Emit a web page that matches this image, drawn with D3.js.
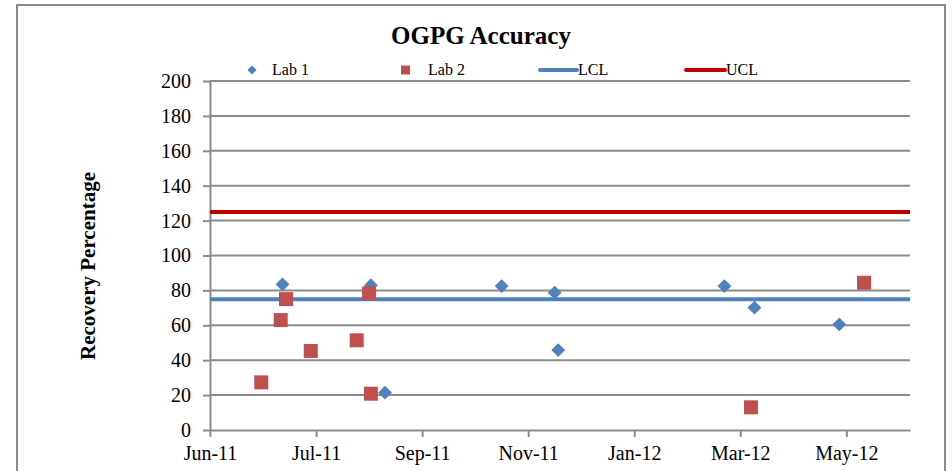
<!DOCTYPE html>
<html>
<head>
<meta charset="utf-8">
<script src="https://cdn.jsdelivr.net/npm/d3@7"></script>
<style>
  body { margin: 0; background: #fff; }
  text { font-family: "Liberation Serif", "Times New Roman", serif; fill: #000; }
</style>
</head>
<body>
<script>
// data
var lab1Dates = ["2011-07-12", "2011-08-31", "2011-09-08", "2011-11-13", "2011-12-13",
                 "2011-12-15", "2012-03-18", "2012-04-04", "2012-05-22"];
var lab1Values = [83.5, 83, 21.4, 82.5, 78.7, 45.8, 82.5, 70.1, 60.5];

var lab2Dates = ["2011-06-30", "2011-07-11", "2011-07-14", "2011-07-28", "2011-08-23",
                 "2011-08-30", "2011-08-31", "2012-04-02", "2012-06-05"];
var lab2Values = [27.3, 63, 75, 45.3, 51.4, 78.3, 20.8, 13, 84.4];

var lclValue = 75;
var uclValue = 125;

var xDomain = ["2011-06-01", "2012-07-01"];
var xTickDates = ["2011-06-01", "2011-07-31", "2011-09-29", "2011-11-28",
                  "2012-01-27", "2012-03-27", "2012-05-26"];
var yTicks = [0, 20, 40, 60, 80, 100, 120, 140, 160, 180, 200];

var parse = d3.timeParse("%Y-%m-%d");
var width = 952, height = 471;
var margin = {left: 210, right: 42, top: 81, bottom: 41};

var svg = d3.select("body").append("svg")
	.attr("width", width)
	.attr("height", height);

// chart frame
svg.append("rect")
	.attr("x", 17).attr("y", 5)
	.attr("width", 928).attr("height", 480)
	.attr("fill", "#fff")
	.attr("stroke", "#8c8c8c")
	.attr("stroke-width", 2);

var x = d3.scaleTime()
	.domain(xDomain.map(parse))
	.range([margin.left, width - margin.right]);
var y = d3.scaleLinear()
	.domain([0, 200])
	.range([height - margin.bottom, margin.top]);

// gridlines
svg.append("g").selectAll("line")
	.data(yTicks.slice(1))
	.enter().append("line")
	.attr("x1", x.range()[0]).attr("x2", x.range()[1])
	.attr("y1", function(d) { return y(d); })
	.attr("y2", function(d) { return y(d); })
	.attr("stroke", "#8c8c8c")
	.attr("stroke-width", 2);

// y axis
var yAxis = svg.append("g")
	.attr("transform", "translate(" + margin.left + ",0)")
	.call(d3.axisLeft(y).tickValues(yTicks).tickSize(7).tickSizeOuter(0).tickPadding(12));
// x axis
var xAxis = svg.append("g")
	.attr("transform", "translate(0," + y(0) + ")")
	.call(d3.axisBottom(x).tickValues(xTickDates.map(parse))
		.tickFormat(d3.timeFormat("%b-%y")).tickSize(7).tickSizeOuter(0).tickPadding(9));

[yAxis, xAxis].forEach(function(ax) {
	ax.select(".domain").attr("stroke", "#8c8c8c").attr("stroke-width", 2);
	ax.selectAll(".tick line").attr("stroke", "#8c8c8c").attr("stroke-width", 2);
	ax.selectAll(".tick text")
		.attr("font-family", "Liberation Serif")
		.attr("font-size", 20)
		.attr("fill", "#000");
});

// control limit lines
svg.append("line")
	.attr("x1", x.range()[0]).attr("x2", x.range()[1])
	.attr("y1", y(lclValue)).attr("y2", y(lclValue))
	.attr("stroke", "#4f81bd").attr("stroke-width", 4);
svg.append("line")
	.attr("x1", x.range()[0]).attr("x2", x.range()[1])
	.attr("y1", y(uclValue)).attr("y2", y(uclValue))
	.attr("stroke", "#c00000").attr("stroke-width", 4);

// Lab 1 diamonds
var diamond = d3.symbol().type(d3.symbolSquare).size(95);
svg.append("g").selectAll("path")
	.data(lab1Dates.map(function(d, i) { return [parse(d), lab1Values[i]]; }))
	.enter().append("path")
	.attr("d", diamond)
	.attr("transform", function(d) {
		return "translate(" + x(d[0]) + "," + y(d[1]) + ") rotate(45)";
	})
	.attr("fill", "#4f81bd");

// Lab 2 squares
var square = d3.symbol().type(d3.symbolSquare).size(196);
svg.append("g").selectAll("path")
	.data(lab2Dates.map(function(d, i) { return [parse(d), lab2Values[i]]; }))
	.enter().append("path")
	.attr("d", square)
	.attr("transform", function(d) {
		return "translate(" + x(d[0]) + "," + y(d[1]) + ")";
	})
	.attr("fill", "#c0504d");

// title
svg.append("text")
	.attr("x", 481).attr("y", 44)
	.attr("text-anchor", "middle")
	.attr("font-size", 25)
	.attr("font-weight", "bold")
	.text("OGPG Accuracy");

// y axis title
svg.append("text")
	.attr("transform", "translate(95,266) rotate(-90)")
	.attr("text-anchor", "middle")
	.attr("font-size", 21)
	.attr("font-weight", "bold")
	.text("Recovery Percentage");

// legend
var legendY = 70;
var leg = svg.append("g").attr("font-size", 16);
leg.append("path")
	.attr("d", d3.symbol().type(d3.symbolSquare).size(40))
	.attr("transform", "translate(252," + legendY + ") rotate(45)")
	.attr("fill", "#4f81bd");
leg.append("text").attr("x", 272).attr("y", legendY + 5).text("Lab 1");
leg.append("rect")
	.attr("x", 401).attr("y", legendY - 4.5).attr("width", 9).attr("height", 9)
	.attr("fill", "#c0504d");
leg.append("text").attr("x", 428).attr("y", legendY + 5).text("Lab 2");
leg.append("line")
	.attr("x1", 540).attr("x2", 577).attr("y1", legendY).attr("y2", legendY)
	.attr("stroke", "#4f81bd").attr("stroke-width", 4).attr("stroke-linecap", "round");
leg.append("text").attr("x", 578).attr("y", legendY + 5).text("LCL");
leg.append("line")
	.attr("x1", 686).attr("x2", 725).attr("y1", legendY).attr("y2", legendY)
	.attr("stroke", "#c00000").attr("stroke-width", 4).attr("stroke-linecap", "round");
leg.append("text").attr("x", 726).attr("y", legendY + 5).text("UCL");
</script>
</body>
</html>
